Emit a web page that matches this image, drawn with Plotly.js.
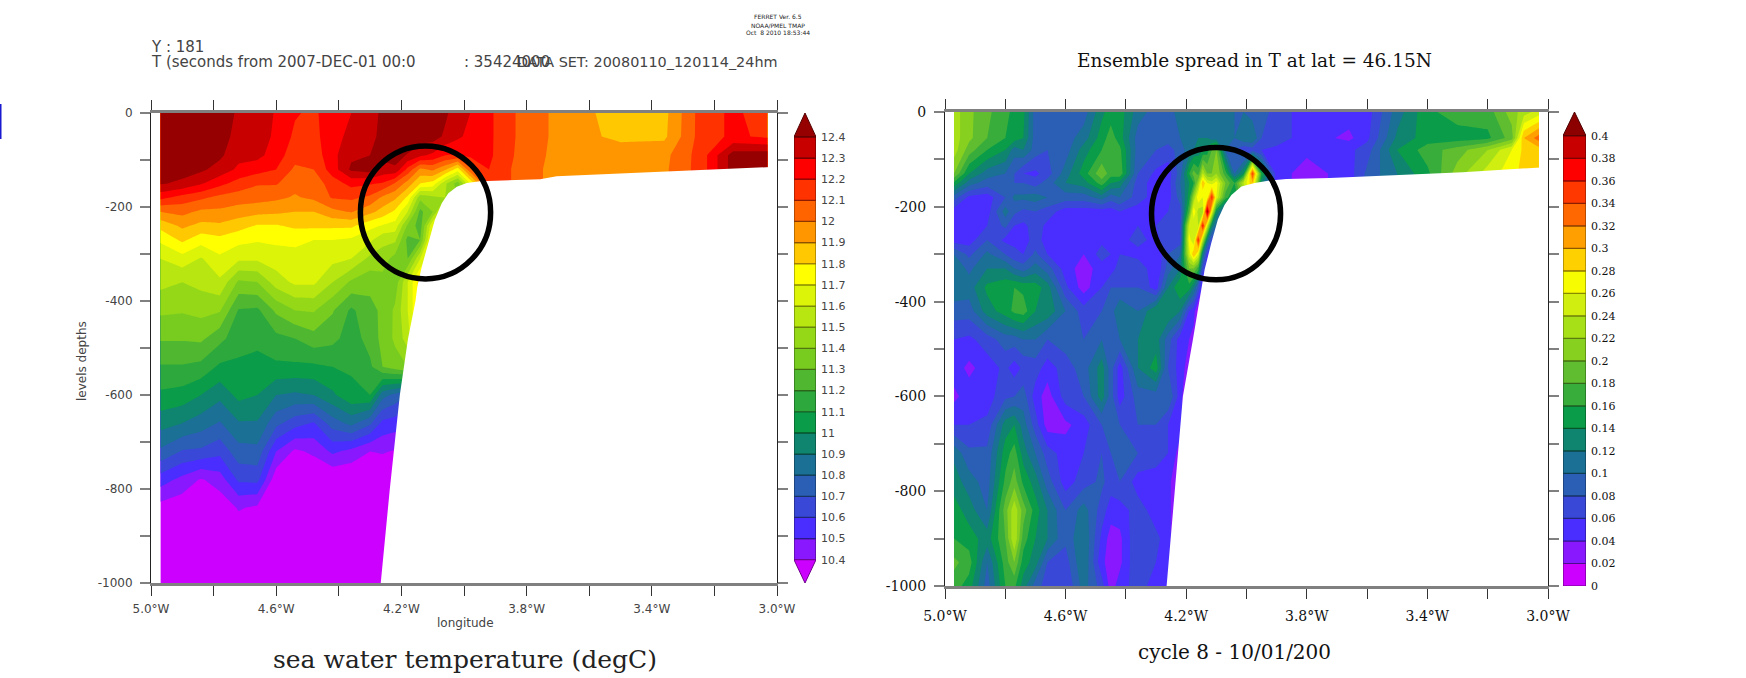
<!DOCTYPE html>
<html><head><meta charset="utf-8">
<script src="https://cdn.plot.ly/plotly-3.0.1.min.js"></script>
<style>html,body{margin:0;padding:0;background:#fff}</style></head>
<body><div id="chart" style="width:1746px;height:678px"></div>
<script>
// ---- Temperature section (one inner list per longitude, top to bottom) ----
const lonT=[-4.97,-4.90,-4.84,-4.78,-4.72,-4.66,-4.60,-4.54,-4.48,-4.42,-4.36,-4.30,-4.26,-4.22,-4.18,-4.14,-4.10,-4.06,-4.02,-3.98,-3.92,-3.80,-3.66,-3.50,-3.36,-3.24,-3.14,-3.03];
const depthT=[0,-50,-90,-120,-150,-180,-210,-240,-270,-310,-360,-420,-480,-540,-600,-660,-720,-780,-840,-1000];
const tempT=[
[12.5,12.55,12.5,12.46,12.41,12.23,12.0,11.83,11.72,11.6,11.53,11.42,11.31,11.19,11.08,10.94,10.78,10.55,10.36,10.2],
[12.55,12.52,12.47,12.44,12.38,12.16,12.03,11.92,11.82,11.66,11.5,11.41,11.31,11.19,11.06,10.9,10.69,10.47,10.33,10.2],
[12.53,12.5,12.46,12.42,12.31,12.12,11.98,11.87,11.74,11.59,11.53,11.43,11.32,11.17,11.0,10.85,10.68,10.39,10.3,10.2],
[12.47,12.45,12.42,12.36,12.23,12.07,11.98,11.88,11.77,11.68,11.58,11.41,11.23,11.08,10.93,10.79,10.63,10.45,10.33,10.2],
[12.38,12.36,12.33,12.28,12.16,12.05,11.95,11.84,11.73,11.62,11.38,11.19,11.14,11.08,11.03,10.89,10.76,10.62,10.41,10.2],
[12.36,12.35,12.33,12.24,12.11,12.04,11.93,11.79,11.71,11.62,11.4,11.18,11.13,11.06,11.0,10.89,10.77,10.63,10.38,10.2],
[12.29,12.28,12.25,12.2,12.11,12.02,11.92,11.79,11.72,11.65,11.55,11.32,11.17,11.08,10.9,10.73,10.5,10.33,10.28,10.2],
[12.21,12.18,12.14,12.08,12.03,11.99,11.9,11.82,11.72,11.67,11.62,11.4,11.2,11.08,10.88,10.64,10.38,10.3,10.26,10.2],
[12.18,12.17,12.14,12.1,12.04,12.02,11.9,11.82,11.7,11.66,11.62,11.41,11.26,11.08,10.9,10.59,10.42,10.3,10.26,10.2],
[12.26,12.26,12.27,12.25,12.15,12.11,11.97,11.82,11.7,11.63,11.5,11.31,11.23,11.1,10.98,10.75,10.52,10.3,10.26,10.2],
[12.3,12.33,12.38,12.42,12.23,12.12,12.01,11.82,11.68,11.6,11.38,11.18,11.15,11.11,11.08,10.83,10.47,10.3,10.26,10.2],
[12.36,12.38,12.4,12.45,12.21,12.08,11.93,11.73,11.62,11.47,11.33,11.27,11.24,11.18,11.1,10.72,10.4,10.3,10.26,10.2],
[12.42,12.42,12.42,12.37,12.19,11.98,11.86,11.69,11.53,11.45,11.36,11.32,11.33,11.3,10.84,10.57,10.41,10.3,10.26,10.2],
[12.5,12.48,12.45,12.38,12.09,11.92,11.78,11.66,11.52,11.36,11.34,11.42,11.42,11.35,10.77,10.55,10.39,10.3,10.26,10.2],
[12.6,12.5,12.39,12.17,11.96,11.78,11.6,11.38,11.27,11.3,11.6,11.6,11.55,11.4,10.7,10.5,10.38,10.3,10.25,10.2],
[12.6,12.45,12.32,11.98,11.8,11.43,11.27,11.25,11.3,11.6,11.85,11.85,11.8,11.4,10.7,10.5,10.35,10.3,10.25,10.2],
[12.6,12.45,12.28,12.02,11.76,11.47,11.4,11.7,11.8,11.8,11.8,11.8,11.8,11.8,10.7,10.5,10.35,10.3,10.25,10.2],
[12.42,12.38,12.2,11.92,11.52,11.5,11.7,11.75,11.75,11.75,11.75,11.75,11.75,11.75,10.7,10.5,10.35,10.3,10.25,10.2],
[12.34,12.32,12.19,11.75,11.35,11.4,11.7,11.75,11.75,11.75,11.75,11.75,11.75,11.75,10.7,10.5,10.35,10.3,10.25,10.2],
[12.3,12.27,12.22,12.08,11.7,11.6,11.7,11.75,11.75,11.75,11.75,11.75,11.75,11.75,10.7,10.5,10.35,10.3,10.25,10.2],
[12.22,12.22,12.22,12.2,12.2,12.2,12.2,12.2,12.2,12.2,12.2,12.2,12.2,12.2,12.2,12.2,12.2,12.2,12.2,12.2],
[12.05,12.05,12.04,12.03,12.03,12.03,12.03,12.03,12.03,12.03,12.03,12.03,12.03,12.03,12.03,12.03,12.03,12.03,12.03,12.03],
[11.95,11.95,11.95,11.95,11.95,11.95,11.95,11.95,11.95,11.95,11.95,11.95,11.95,11.95,11.95,11.95,11.95,11.95,11.95,11.95],
[11.85,11.87,11.97,11.98,11.98,11.98,11.98,11.98,11.98,11.98,11.98,11.98,11.98,11.98,11.98,11.98,11.98,11.98,11.98,11.98],
[11.87,11.88,11.97,11.98,11.98,11.98,11.98,11.98,11.98,11.98,11.98,11.98,11.98,11.98,11.98,11.98,11.98,11.98,11.98,11.98],
[12.15,12.15,12.15,12.15,12.15,12.15,12.15,12.15,12.15,12.15,12.15,12.15,12.15,12.15,12.15,12.15,12.15,12.15,12.15,12.15],
[12.22,12.22,12.45,12.45,12.45,12.45,12.45,12.45,12.45,12.45,12.45,12.45,12.45,12.45,12.45,12.45,12.45,12.45,12.45,12.45],
[12.15,12.18,12.46,12.46,12.46,12.46,12.46,12.46,12.46,12.46,12.46,12.46,12.46,12.46,12.46,12.46,12.46,12.46,12.46,12.46]
];
const bedLonT=[-4.266,-4.237,-4.205,-4.179,-4.155,-4.149,-4.135,-4.114,-4.093,-4.071,-4.05,-4.023,-3.991,-3.949,-3.91,-3.757,-3.704,-3.348,-3.027,-3.02,-3.02,-4.27];
const bedDepthT=[-1000,-800,-600,-481,-400,-369,-327,-277,-227,-192,-171,-157,-149,-145,-144,-141,-134.5,-125,-115,-115,-1012,-1012];
const levelsT=[10.4,10.5,10.6,10.7,10.8,10.9,11,11.1,11.2,11.3,11.4,11.5,11.6,11.7,11.8,11.9,12,12.1,12.2,12.3,12.4];
const labelsT=['10.4','10.5','10.6','10.7','10.8','10.9','11','11.1','11.2','11.3','11.4','11.5','11.6','11.7','11.8','11.9','12','12.1','12.2','12.3','12.4'];
const colorsT=['#cc00ff','#8a18ff','#4a2dff','#3a48d8','#2a5fb5','#1a7095','#0f8570','#0a9c48','#2ca83c','#50b830','#78cc20','#94d818','#b8e610','#dcf408','#ffff00','#ffc800','#ff9600','#ff6400','#ff3200','#ff0000','#c80000','#960000'];

// ---- Ensemble spread section ----
const lonS=[-4.97,-4.92,-4.86,-4.80,-4.77,-4.74,-4.70,-4.66,-4.60,-4.54,-4.48,-4.45,-4.42,-4.36,-4.30,-4.26,-4.22,-4.19,-4.175,-4.16,-4.145,-4.13,-4.115,-4.10,-4.07,-4.04,-4.01,-3.98,-3.95,-3.90,-3.80,-3.66,-3.60,-3.50,-3.40,-3.30,-3.20,-3.12,-3.08,-3.03];
const depthS=[0,-55,-80,-130,-150,-180,-210,-240,-270,-300,-330,-370,-420,-480,-540,-600,-660,-720,-780,-840,-900,-950,-1000];
const spreadS=[
[.23,.23,.23,.2,.155,.09,.05,.05,.05,.1,.115,.115,.09,.06,.05,.035,.06,.115,.13,.15,.16,.185,.17],
[.205,.205,.19,.14,.11,.055,.05,.05,.05,.075,.095,.11,.09,.055,.035,.05,.06,.085,.11,.13,.15,.17,.15],
[.185,.18,.16,.11,.09,.05,.05,.06,.08,.105,.12,.145,.13,.07,.05,.05,.065,.085,.09,.1,.13,.1,.09],
[.165,.16,.14,.1,.09,.08,.11,.085,.055,.08,.12,.155,.15,.09,.065,.075,.13,.15,.165,.19,.18,.17,.16],
[.155,.15,.11,.08,.08,.105,.085,.06,.055,.065,.1,.16,.165,.09,.05,.08,.14,.17,.19,.235,.24,.2,.165],
[.145,.14,.12,.06,.08,.105,.075,.055,.05,.06,.09,.155,.17,.1,.065,.09,.11,.13,.155,.19,.17,.15,.13],
[.09,.09,.09,.055,.07,.11,.08,.07,.07,.085,.11,.15,.14,.1,.07,.05,.07,.1,.13,.15,.14,.13,.09],
[.09,.09,.08,.07,.09,.1,.07,.055,.05,.06,.09,.13,.135,.08,.05,.03,.03,.07,.09,.12,.12,.08,.07],
[.09,.09,.09,.11,.12,.09,.05,.05,.05,.05,.05,.065,.1,.09,.07,.07,.035,.05,.05,.08,.085,.07,.06],
[.09,.11,.13,.15,.13,.09,.05,.05,.05,.04,.03,.03,.07,.08,.09,.08,.05,.06,.07,.11,.12,.12,.11],
[.135,.15,.16,.195,.17,.11,.05,.05,.055,.07,.05,.06,.08,.1,.13,.13,.08,.08,.085,.07,.055,.045,.07],
[.15,.17,.17,.17,.14,.09,.05,.055,.06,.06,.05,.08,.09,.09,.09,.09,.09,.08,.07,.05,.03,.03,.03],
[.15,.15,.165,.175,.13,.1,.06,.05,.05,.06,.07,.08,.12,.1,.05,.05,.08,.09,.08,.05,.035,.035,.05],
[.11,.09,.09,.08,.07,.07,.05,.06,.07,.05,.08,.08,.1,.12,.12,.09,.08,.08,.05,.07,.08,.08,.07],
[.09,.085,.08,.055,.05,.05,.05,.06,.05,.04,.04,.05,.14,.13,.15,.09,.08,.07,.05,.05,.065,.06,.05],
[.09,.09,.07,.05,.05,.05,.06,.07,.08,.08,.09,.12,.14,.09,.08,.1,.06,.06,.05,.05,.05,.05,.05],
[.11,.1,.09,.09,.1,.09,.07,.07,.07,.1,.12,.16,.12,.05,.05,.05,.05,.03,.005,.005,.005,.005,.005],
[.11,.11,.11,.16,.14,.15,.18,.25,.27,.25,.2,.15,.06,.04,.03,.01,.005,.005,.005,.005,.005,.005,.005],
[.11,.11,.12,.19,.16,.22,.28,.24,.24,.3,.2,.12,.05,.03,.01,.005,.005,.005,.005,.005,.005,.005,.005],
[.12,.12,.13,.17,.22,.28,.23,.24,.36,.26,.17,.08,.01,.005,.005,.005,.005,.005,.005,.005,.005,.005,.005],
[.12,.12,.14,.24,.3,.26,.23,.37,.24,.12,.07,.04,.01,.005,.005,.005,.005,.005,.005,.005,.005,.005,.005],
[.11,.12,.15,.2,.26,.27,.41,.25,.12,.06,.05,.02,.005,.005,.005,.005,.005,.005,.005,.005,.005,.005,.005],
[.1,.11,.18,.2,.25,.36,.27,.13,.07,.05,.02,.005,.005,.005,.005,.005,.005,.005,.005,.005,.005,.005,.005],
[.1,.11,.2,.22,.27,.26,.14,.1,.05,.03,.01,.005,.005,.005,.005,.005,.005,.005,.005,.005,.005,.005,.005],
[.11,.11,.1,.17,.2,.17,.08,.03,.01,.005,.005,.005,.005,.005,.005,.005,.005,.005,.005,.005,.005,.005,.005],
[.1,.1,.08,.1,.16,.14,.08,.03,.01,.005,.005,.005,.005,.005,.005,.005,.005,.005,.005,.005,.005,.005,.005],
[.1,.12,.06,.14,.24,.2,.1,.03,.01,.005,.005,.005,.005,.005,.005,.005,.005,.005,.005,.005,.005,.005,.005],
[.09,.12,.07,.35,.3,.28,.1,.03,.01,.005,.005,.005,.005,.005,.005,.005,.005,.005,.005,.005,.005,.005,.005],
[.09,.08,.06,.16,.13,.1,.08,.03,.01,.005,.005,.005,.005,.005,.005,.005,.005,.005,.005,.005,.005,.005,.005],
[.07,.07,.055,.05,.05,.05,.05,.05,.05,.05,.05,.05,.05,.05,.05,.05,.05,.05,.05,.05,.05,.05,.05],
[.05,.05,.045,.03,.03,.03,.03,.03,.03,.03,.03,.03,.03,.03,.03,.03,.03,.03,.03,.03,.03,.03,.03],
[.05,.035,.055,.05,.05,.05,.05,.05,.05,.05,.05,.05,.05,.05,.05,.05,.05,.05,.05,.05,.05,.05,.05],
[.05,.055,.07,.085,.085,.085,.085,.085,.085,.085,.085,.085,.085,.085,.085,.085,.085,.085,.085,.085,.085,.085,.085],
[.11,.125,.14,.12,.12,.12,.12,.12,.12,.12,.12,.12,.12,.12,.12,.12,.12,.12,.12,.12,.12,.12,.12],
[.155,.15,.17,.155,.155,.155,.155,.155,.155,.155,.155,.155,.155,.155,.155,.155,.155,.155,.155,.155,.155,.155,.155],
[.17,.15,.19,.21,.21,.21,.21,.21,.21,.21,.21,.21,.21,.21,.21,.21,.21,.21,.21,.21,.21,.21,.21],
[.17,.155,.22,.25,.25,.25,.25,.25,.25,.25,.25,.25,.25,.25,.25,.25,.25,.25,.25,.25,.25,.25,.25],
[.21,.19,.26,.27,.27,.27,.27,.27,.27,.27,.27,.27,.27,.27,.27,.27,.27,.27,.27,.27,.27,.27,.27],
[.23,.3,.285,.29,.29,.29,.29,.29,.29,.29,.29,.29,.29,.29,.29,.29,.29,.29,.29,.29,.29,.29,.29],
[.25,.33,.29,.29,.29,.29,.29,.29,.29,.29,.29,.29,.29,.29,.29,.29,.29,.29,.29,.29,.29,.29,.29]
];
const bedLonS=[-4.265,-4.237,-4.211,-4.178,-4.156,-4.139,-4.117,-4.095,-4.073,-4.05,-4.017,-3.973,-3.923,-3.868,-3.724,-3.467,-3.283,-3.024,-3.015,-3.015,-4.27];
const bedDepthS=[-1000,-800,-600,-481,-396,-333,-277,-227,-196,-175,-157,-150,-144.5,-141.5,-139,-132,-127,-117,-117,-1012,-1012];
const levelsS=[0,.02,.04,.06,.08,.1,.12,.14,.16,.18,.2,.22,.24,.26,.28,.3,.32,.34,.36,.38,.4];
const labelsS=['0','0.02','0.04','0.06','0.08','0.1','0.12','0.14','0.16','0.18','0.2','0.22','0.24','0.26','0.28','0.3','0.32','0.34','0.36','0.38','0.4'];
const colorsS=['#cc00ff','#8a18ff','#4a2dff','#3a48d8','#2a5fb5','#1a7095','#0f8570','#0a9c48','#38ad3c','#60bd30','#88d020','#a8e018','#d0ee10','#f8fc00','#ffd000','#ff9f00','#ff6800','#ff3800','#ff0000','#c80000','#8c0000'];

// ---- Axis labels ----
const lonTicks=[-5,-4.8,-4.6,-4.4,-4.2,-4,-3.8,-3.6,-3.4,-3.2,-3];
const lonLabels=['5.0°W','','4.6°W','','4.2°W','','3.8°W','','3.4°W','','3.0°W'];
const depthTicks=[0,-100,-200,-300,-400,-500,-600,-700,-800,-900,-1000];
const depthLabels=['0','','-200','','-400','','-600','','-800','','-1000'];

const W=1746,H=678;
const fx=p=>p/W, fy=p=>1-p/H;
const scale=cols=>cols.map((c,i)=>[i/(cols.length-1),c]);
const dark=c=>{const n=parseInt(c.slice(1),16);return `rgb(${(n>>16)*.55|0},${((n>>8)&255)*.55|0},${(n&255)*.55|0})`;};
const SANS='"DejaVu Sans", sans-serif', SERIF='"DejaVu Serif", serif';

function section(x,y,z,start,end,size,cols,xa,ya){
  return {type:'contour',x,y,z,transpose:true,xaxis:xa,yaxis:ya,autocontour:false,
    contours:{start,end:end+size*1e-3,size,coloring:'fill',showlines:false},
    line:{width:0,smoothing:0},zmin:start-size/2,zmax:end+size/2,colorscale:scale(cols),showscale:false,hoverinfo:'skip'};
}
function bed(x,y,xa,ya){
  return {type:'scatter',mode:'lines',x,y,xaxis:xa,yaxis:ya,fill:'toself',fillcolor:'#ffffff',line:{width:0,color:'#ffffff'},hoverinfo:'skip',showlegend:false};
}
function keyBars(levels,cols,xa,ya){
  const lo=levels.slice(0,-1), h=levels.slice(1).map((v,i)=>v-levels[i]);
  return {type:'bar',x:lo.map(()=>0.5),y:h,base:lo,width:1,xaxis:xa,yaxis:ya,
    marker:{color:cols,line:{color:cols.map(dark),width:1.2}},hoverinfo:'skip',showlegend:false};
}
function tri(x,y,c,xa,ya){
  return {type:'scatter',mode:'lines',x,y,xaxis:xa,yaxis:ya,fill:'toself',fillcolor:c,line:{width:1,color:dark(c)},hoverinfo:'skip',showlegend:false};
}
const data=[
  section(lonT,depthT,tempT,10.4,12.4,0.1,colorsT,'x','y'),
  bed(bedLonT,bedDepthT,'x','y'),
  section(lonS,depthS,spreadS,0.02,0.4,0.02,colorsS,'x2','y2'),
  bed(bedLonS,bedDepthS,'x2','y2'),
  keyBars(levelsT,colorsT.slice(1,-1),'x3','y3'),
  tri([0,1,0.5,0],[12.4,12.4,12.513,12.4],colorsT[colorsT.length-1],'x3','y3'),
  tri([0,1,0.5,0],[10.4,10.4,10.29,10.4],colorsT[0],'x3','y3'),
  keyBars(levelsS,colorsS.slice(0,-1),'x4','y4'),
  tri([0,1,0.5,0],[0.4,0.4,0.4211,0.4],colorsS[colorsS.length-1],'x4','y4')
];
function lonAxis(x0,x1,anchor,font,color){
  return {domain:[fx(x0),fx(x1)],anchor,range:[-5,-3],tickmode:'array',tickvals:lonTicks,ticktext:lonLabels,
    ticks:'outside',ticklen:10,tickwidth:1,tickcolor:'#333',tickfont:{family:font,size:font===SANS?12:14,color},tickangle:0,
    ticklabelstandoff:font===SANS?3:5,showline:true,linecolor:'#808080',linewidth:3,mirror:'ticks',showgrid:false,zeroline:false,fixedrange:true};
}
function depthAxis(y0,y1,anchor,font,color){
  return {domain:[fy(y1),fy(y0)],anchor,range:[-1000,0],tickmode:'array',tickvals:depthTicks,ticktext:depthLabels,
    ticks:'outside',ticklen:10,tickwidth:2,tickcolor:'#808080',tickfont:{family:font,size:font===SANS?12:14,color},
    ticklabelstandoff:5,showline:true,linecolor:'#222',linewidth:1,mirror:'ticks',showgrid:false,zeroline:false,fixedrange:true};
}
function keyX(x0,x1,anchor){return {domain:[fx(x0),fx(x1)],anchor,range:[0,1],visible:false,fixedrange:true};}
function keyY(y0,y1,anchor,rng,vals,txt,font,color){
  return {domain:[fy(y1),fy(y0)],anchor,side:'right',range:rng,tickmode:'array',tickvals:vals,ticktext:txt,ticks:'',
    ticklabelstandoff:4,tickfont:{family:font,size:11,color},showline:false,showgrid:false,zeroline:false,fixedrange:true};
}
const note=(px,py,text,size,fam,color,anchor,extra)=>Object.assign({xref:'paper',yref:'paper',x:fx(px),y:fy(py),text,showarrow:false,
  xanchor:anchor||'left',yanchor:'middle',font:{family:fam,size,color:color||'#333'}},extra||{});
const layout={
  width:W,height:H,margin:{l:0,r:0,t:0,b:0},paper_bgcolor:'#fff',plot_bgcolor:'#fff',showlegend:false,barmode:'overlay',
  xaxis:lonAxis(151,777,'y',SANS,'#444'),yaxis:depthAxis(113,583,'x',SANS,'#444'),
  xaxis2:lonAxis(945,1548,'y2',SERIF,'#111'),yaxis2:depthAxis(112,586,'x2',SERIF,'#111'),
  xaxis3:keyX(794,816,'y3'),yaxis3:keyY(113,583,'x3',[10.29,12.513],levelsT,labelsT,SANS,'#444'),
  xaxis4:keyX(1563,1586,'y4'),yaxis4:keyY(112,586,'x4',[0,0.4211],levelsS,labelsS,SERIF,'#111'),
  shapes:[
    {type:'circle',xref:'x',yref:'y',x0:-4.331,x1:-3.915,y0:-70,y1:-353,line:{color:'#000',width:5.5}},
    {type:'circle',xref:'x2',yref:'y2',x0:-4.315,x1:-3.887,y0:-75,y1:-354,line:{color:'#000',width:5.5}},
    {type:'rect',xref:'paper',yref:'paper',x0:0,x1:fx(1.5),y0:fy(139),y1:fy(104),fillcolor:'#1a1ad0',line:{width:0}}
  ],
  annotations:[
    note(778,17,'FERRET Ver. 6.5',6,SANS,'#222','center'),
    note(778,25,'NOAA/PMEL TMAP',6,SANS,'#222','center'),
    note(778,33,'Oct  8 2010 18:53:44',6,SANS,'#222','center'),
    note(149,47,'Y : 181',15,SANS,'#444'),
    note(149,62,'T (seconds from 2007-DEC-01 00:0',15,SANS,'#444'),
    note(462,62,': 35424000',15,SANS,'#444'),
    note(515,62,'DATA SET: 20080110_120114_24hm',14.4,SANS,'#444'),
    note(82,361,'levels depths',12,SANS,'#444','center',{textangle:-90}),
    note(465,623,'longitude',12,SANS,'#444','center'),
    note(465,659,'sea water temperature (degC)',25,SERIF,'#222','center'),
    note(1254,60,'Ensemble spread in T at lat = 46.15N',18.5,SERIF,'#111','center'),
    note(1234,652,'cycle 8 - 10/01/200',20,SERIF,'#111','center')
  ]
};
Plotly.newPlot('chart',data,layout,{displayModeBar:false,responsive:false,staticPlot:true});
</script></body></html>
